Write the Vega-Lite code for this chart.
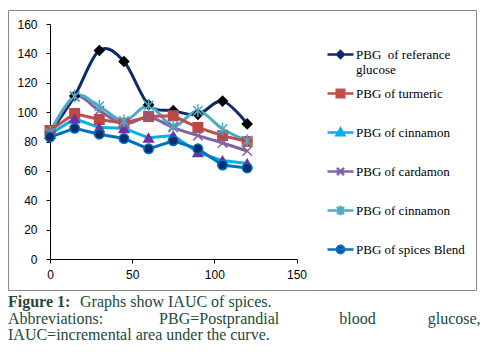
{
  "$schema": "https://vega.github.io/schema/vega-lite/v6.json",
  "width": 468,
  "height": 280,
  "autosize": {"type": "none"},
  "padding": {"left": 8, "top": 10, "right": 10, "bottom": 69},
  "background": "white",
  "config": {
    "view": {"stroke": "#8a8a8a", "strokeWidth": 1},
    "axis": {"grid": false, "domainColor": "black", "tickColor": "black", "labelColor": "black", "labelFont": "Liberation Sans", "labelFontSize": 12, "tickSize": 4, "domainWidth": 1},
    "style": {"guide-label": {"lineHeight": 15}}
  },
  "title": {
    "text": "Figure 1:",
    "subtitle": ["\u2060\u00a0\u00a0\u00a0\u00a0\u00a0\u00a0\u00a0\u00a0\u00a0\u00a0\u00a0\u00a0\u00a0\u00a0\u00a0\u00a0\u00a0\u00a0Graphs show IAUC of spices.", "Abbreviations:\u00a0\u00a0\u00a0\u00a0\u00a0\u00a0\u00a0\u00a0\u00a0\u00a0\u00a0\u00a0\u00a0\u00a0PBG=Postprandial\u00a0\u00a0\u00a0\u00a0\u00a0\u00a0\u00a0\u00a0\u00a0\u00a0\u00a0\u00a0\u00a0\u00a0\u00a0blood\u00a0\u00a0\u00a0\u00a0\u00a0\u00a0\u00a0\u00a0\u00a0\u00a0\u00a0\u00a0\u00a0glucose,", "IAUC=incremental area under the curve."],
    "orient": "bottom",
    "anchor": "start",
    "frame": "group",
    "offset": 4,
    "font": "Liberation Serif",
    "fontSize": 16,
    "fontWeight": "bold",
    "color": "#23493A",
    "subtitleFont": "Liberation Serif",
    "subtitleFontSize": 16,
    "subtitleColor": "#23493A",
    "subtitleLineHeight": 16.5,
    "subtitlePadding": -16
  },
  "data": {
    "values": [
      {"series": "ref", "t": 0, "v": 86}, {"series": "ref", "t": 15, "v": 111}, {"series": "ref", "t": 30, "v": 142}, {"series": "ref", "t": 45, "v": 134.5}, {"series": "ref", "t": 60, "v": 105}, {"series": "ref", "t": 75, "v": 101}, {"series": "ref", "t": 90, "v": 98.5}, {"series": "ref", "t": 105, "v": 107.5}, {"series": "ref", "t": 120, "v": 92},
      {"series": "turmeric", "t": 0, "v": 87.5}, {"series": "turmeric", "t": 15, "v": 99}, {"series": "turmeric", "t": 30, "v": 95}, {"series": "turmeric", "t": 45, "v": 92.5}, {"series": "turmeric", "t": 60, "v": 97}, {"series": "turmeric", "t": 75, "v": 97.5}, {"series": "turmeric", "t": 90, "v": 89.5}, {"series": "turmeric", "t": 105, "v": 84}, {"series": "turmeric", "t": 120, "v": 80},
      {"series": "cinnamon", "t": 0, "v": 85}, {"series": "cinnamon", "t": 15, "v": 95.5}, {"series": "cinnamon", "t": 30, "v": 89.5}, {"series": "cinnamon", "t": 45, "v": 89}, {"series": "cinnamon", "t": 60, "v": 82.5}, {"series": "cinnamon", "t": 75, "v": 84}, {"series": "cinnamon", "t": 90, "v": 72.5}, {"series": "cinnamon", "t": 105, "v": 67}, {"series": "cinnamon", "t": 120, "v": 65},
      {"series": "cardamon", "t": 0, "v": 86}, {"series": "cardamon", "t": 15, "v": 110.5}, {"series": "cardamon", "t": 30, "v": 101}, {"series": "cardamon", "t": 45, "v": 92}, {"series": "cardamon", "t": 60, "v": 96.5}, {"series": "cardamon", "t": 75, "v": 89.5}, {"series": "cardamon", "t": 90, "v": 84}, {"series": "cardamon", "t": 105, "v": 79}, {"series": "cardamon", "t": 120, "v": 73.5},
      {"series": "cinnamon2", "t": 0, "v": 86}, {"series": "cinnamon2", "t": 15, "v": 111}, {"series": "cinnamon2", "t": 30, "v": 104}, {"series": "cinnamon2", "t": 45, "v": 94}, {"series": "cinnamon2", "t": 60, "v": 104.5}, {"series": "cinnamon2", "t": 75, "v": 90.5}, {"series": "cinnamon2", "t": 90, "v": 101}, {"series": "cinnamon2", "t": 105, "v": 88.5}, {"series": "cinnamon2", "t": 120, "v": 80.5},
      {"series": "blend", "t": 0, "v": 83}, {"series": "blend", "t": 15, "v": 89}, {"series": "blend", "t": 30, "v": 85}, {"series": "blend", "t": 45, "v": 82}, {"series": "blend", "t": 60, "v": 75}, {"series": "blend", "t": 75, "v": 80.5}, {"series": "blend", "t": 90, "v": 75}, {"series": "blend", "t": 105, "v": 64}, {"series": "blend", "t": 120, "v": 62}
    ]
  },
  "encoding": {
    "x": {"field": "t", "type": "quantitative", "scale": {"domain": [0, 150], "range": [42, 288.5], "nice": false, "zero": false},
      "axis": {"title": null, "orient": "bottom", "offset": -31, "values": [0, 50, 100, 150], "labelPadding": 6, "labelFlush": false}},
    "y": {"field": "v", "type": "quantitative", "scale": {"domain": [0, 160], "range": [249, 14], "nice": false, "zero": false},
      "axis": {"title": null, "orient": "left", "offset": -42, "values": [0, 20, 40, 60, 80, 100, 120, 140, 160], "labelPadding": 9}}
  },
  "resolve": {"scale": {"shape": "independent", "fill": "independent", "stroke": "independent"}},
  "layer": [
    {
      "transform": [{"filter": "datum.series == 'ref' || datum.series == 'cardamon' || datum.series == 'cinnamon2'"}],
      "mark": {"type": "line", "interpolate": "cardinal", "strokeWidth": 3},
      "encoding": {
        "color": {"field": "series", "type": "nominal", "legend": null,
          "scale": {"domain": ["ref", "turmeric", "cinnamon", "cardamon", "cinnamon2", "blend"], "range": ["#0F2A6B", "#C0504D", "#00B0F0", "#8064A2", "#4BACC6", "#0070C0"]}}
      }
    },
    {
      "transform": [{"filter": "datum.series == 'turmeric' || datum.series == 'cinnamon' || datum.series == 'blend'"}],
      "mark": {"type": "line", "interpolate": "linear", "strokeWidth": 3},
      "encoding": {"color": {"field": "series", "type": "nominal", "legend": null}}
    },
    {
      "mark": {"type": "point", "filled": true, "opacity": 1, "strokeWidth": 1.5, "size": 90},
      "encoding": {
        "shape": {"field": "series", "type": "nominal", "legend": null,
          "scale": {"domain": ["ref", "turmeric", "cinnamon", "cardamon", "cinnamon2", "blend"], "range": ["diamond", "square", "triangle-up", "M-1,-1L1,1M-1,1L1,-1", "M-1,-1L1,1M-1,1L1,-1M0,-1.35V1.35", "circle"]}},
        "fill": {"field": "series", "type": "nominal", "legend": null,
          "scale": {"domain": ["ref", "turmeric", "cinnamon", "cardamon", "cinnamon2", "blend"], "range": ["#000000", "#B84B47", "#7030A0", "transparent", "transparent", "#0C2D6B"]}},
        "stroke": {"field": "series", "type": "nominal", "legend": null,
          "scale": {"domain": ["ref", "turmeric", "cinnamon", "cardamon", "cinnamon2", "blend"], "range": ["#000000", "#B84B47", "#7030A0", "#8064A2", "#4BACC6", "#0070C0"]}}
      }
    },
    {
      "mark": {"type": "point", "filled": true, "opacity": 0, "strokeWidth": 2.5},
      "encoding": {
        "shape": {"field": "series", "type": "nominal",
          "scale": {"domain": ["ref", "turmeric", "cinnamon", "cardamon", "cinnamon2", "blend"], "range": ["M0,-1.45L0,-1.45M0,1.45L0,1.45M-1,0H1M0,-0.26L0.26,0L0,0.26L-0.26,0Z", "M0,-1.45L0,-1.45M0,1.45L0,1.45M-1,0H1M-0.29,-0.29H0.29V0.29H-0.29Z", "M0,-1.45L0,-1.45M0,1.45L0,1.45M-1,0H1M0,-0.3L0.3,0.22H-0.3Z", "M0,-1.45L0,-1.45M0,1.45L0,1.45M-1,0H1M-0.27,-0.27L0.27,0.27M-0.27,0.27L0.27,-0.27", "M0,-1.45L0,-1.45M0,1.45L0,1.45M-1,0H1M-0.27,-0.27L0.27,0.27M-0.27,0.27L0.27,-0.27M0,-0.36V0.36", "M0,-1.45L0,-1.45M0,1.45L0,1.45M-1,0H1M0.28,0A0.28,0.28,0,1,1,-0.28,0A0.28,0.28,0,1,1,0.28,0Z"]},
          "legend": {
            "orient": "none", "legendX": 318, "legendY": 30, "title": null, "padding": 0,
            "rowPadding": -13.6, "symbolSize": 676, "symbolStrokeWidth": 2.5, "symbolOpacity": 1, "labelOffset": 1,
            "labelFont": "Liberation Serif", "labelFontSize": 13, "labelColor": "black", "labelLimit": 300,
            "labelExpr": "{'ref': ['PBG\u00a0 of referance', 'glucose'], 'turmeric': 'PBG of turmeric', 'cinnamon': 'PBG of cinnamon', 'cardamon': 'PBG of cardamon', 'cinnamon2': 'PBG of cinnamon', 'blend': 'PBG of spices Blend'}[datum.label]"
          }},
        "fill": {"field": "series", "type": "nominal",
          "scale": {"domain": ["ref", "turmeric", "cinnamon", "cardamon", "cinnamon2", "blend"], "range": ["#000000", "#B84B47", "#7030A0", "transparent", "transparent", "#0C2D6B"]}},
        "stroke": {"field": "series", "type": "nominal",
          "scale": {"domain": ["ref", "turmeric", "cinnamon", "cardamon", "cinnamon2", "blend"], "range": ["#0F2A6B", "#C0504D", "#00B0F0", "#8064A2", "#4BACC6", "#0070C0"]}}
      }
    }
  ]
}
